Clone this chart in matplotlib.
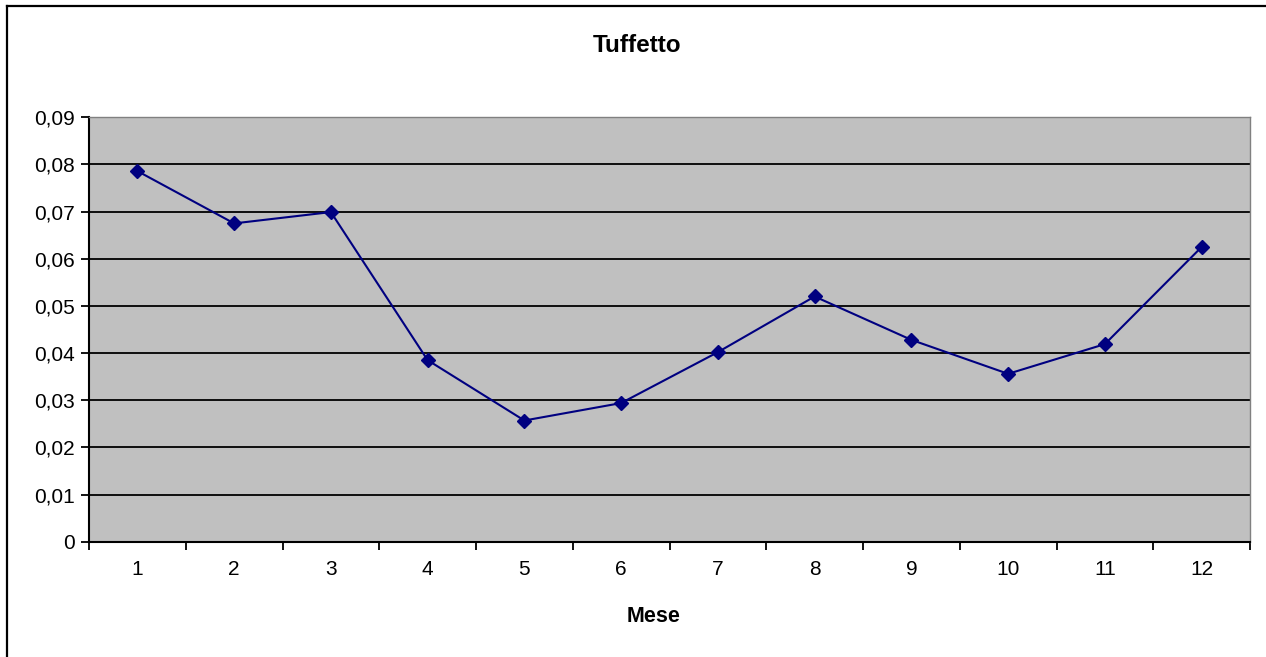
import matplotlib
matplotlib.use("Agg")
import matplotlib.pyplot as plt
from matplotlib.lines import Line2D
from matplotlib.ticker import FixedLocator, FuncFormatter

months = [1, 2, 3, 4, 5, 6, 7, 8, 9, 10, 11, 12]
values = [0.0786, 0.0675, 0.0699, 0.0385, 0.0257, 0.0294, 0.0402,
          0.0520, 0.0428, 0.0356, 0.0419, 0.0625]
month_labels = [str(m) for m in months]
yticks = [0, 0.01, 0.02, 0.03, 0.04, 0.05, 0.06, 0.07, 0.08, 0.09]

plt.rcParams['font.family'] = ['Liberation Sans', 'DejaVu Sans']

fig = plt.figure(figsize=(12.66, 6.57), dpi=100)
fig.patch.set_facecolor('white')
# outer chart frame: only left and top edges are visible in the reference
fig.add_artist(Line2D([6.5/1266, 6.5/1266], [0, 1 - 6/657], transform=fig.transFigure,
                      color='black', linewidth=1.6))
fig.add_artist(Line2D([6.5/1266, 1], [1 - 6/657, 1 - 6/657], transform=fig.transFigure,
                      color='black', linewidth=1.6))

ax = fig.add_axes([89/1266, (657-541.7)/657, (1250-89)/1266, (541.7-117.3)/657])
ax.set_facecolor('#C0C0C0')
ax.plot(months, values, color='#000080', linewidth=1.5, marker='D',
        markersize=7, markerfacecolor='#000080', markeredgecolor='#000080', zorder=3)

ax.set_xlim(0.5, 12.5)
ax.set_ylim(0, 0.09)
ax.set_yticks(yticks)
ax.yaxis.set_major_formatter(FuncFormatter(lambda v, p: '0' if v == 0 else f"{v:.2f}".replace('.', ',')))
ax.grid(axis='y', color='black', linewidth=1.3)
ax.set_axisbelow(True)

ax.xaxis.set_major_locator(FixedLocator([m + 0.5 for m in [0] + months]))
ax.xaxis.set_minor_locator(FixedLocator(months))
ax.set_xticklabels([])
ax.set_xticklabels(month_labels, minor=True)
ax.tick_params(axis='x', which='major', length=6, width=1.3, direction='out')
ax.tick_params(axis='x', which='minor', length=0, pad=13, labelsize=15)
ax.tick_params(axis='y', length=6, width=1.3, direction='out', labelsize=15, pad=4)

for side in ['top', 'right']:
    ax.spines[side].set_color('#808080')
    ax.spines[side].set_linewidth(1.0)
for side in ['left', 'bottom']:
    ax.spines[side].set_color('black')
    ax.spines[side].set_linewidth(1.5)

fig.text(0.503, 1 - 45/657, 'Tuffetto', ha='center', va='center', fontsize=17.5, fontweight='bold')
fig.text(654/1266, 1 - 616/657, 'Mese', ha='center', va='center', fontsize=15.5, fontweight='bold')

fig.savefig('out.png', dpi=100)
